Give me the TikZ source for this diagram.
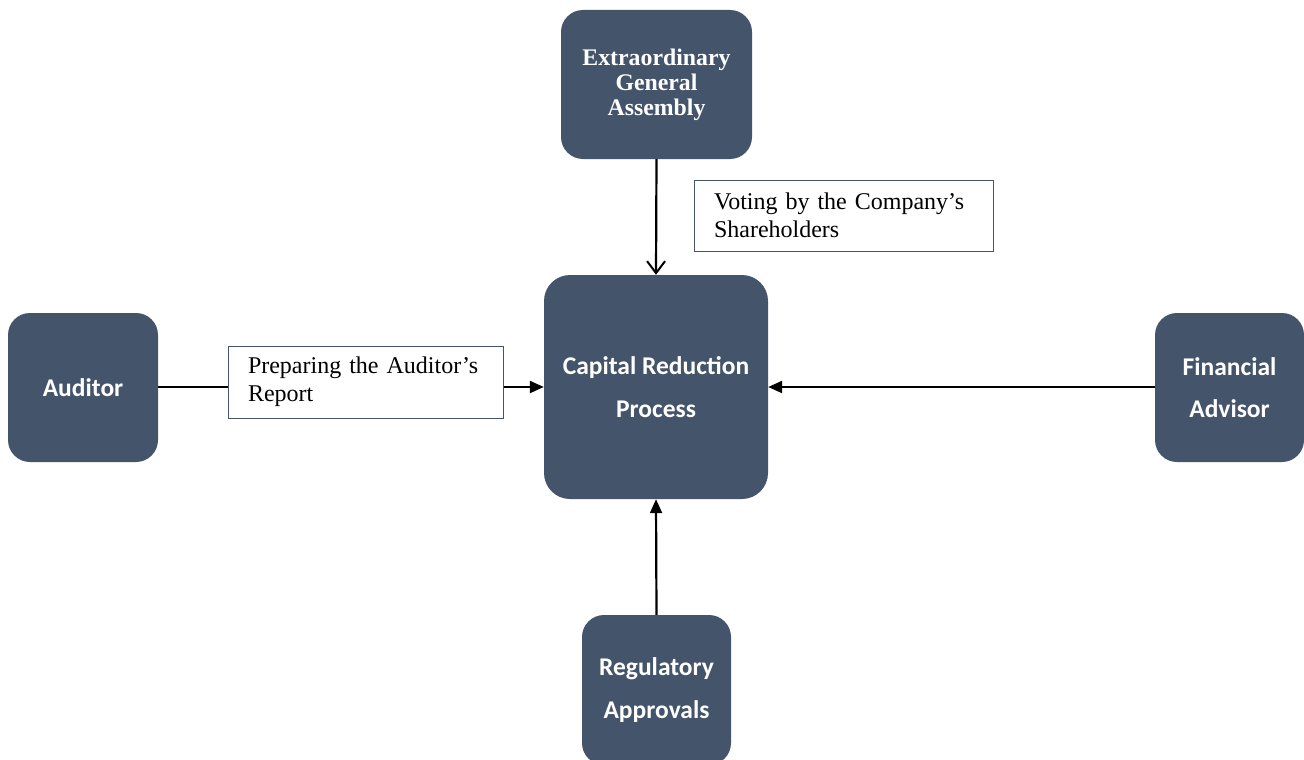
\documentclass[tikz,border=0pt]{standalone}
\usepackage{fontspec}
\setmainfont{Liberation Serif}
\newfontfamily\cand{Carlito}
\usetikzlibrary{arrows.meta}
\definecolor{slate}{HTML}{44546A}
\tikzset{
  box/.style={draw=none, fill=slate, rounded corners=22pt, text=white, align=center, inner sep=0pt},
  sansbox/.style={box, font=\cand\bfseries\fontsize{25.5}{42.5}\selectfont},
  serifbox/.style={box, font=\bfseries\fontsize{23.8}{25}\selectfont},
  lbl/.style={draw=slate, line width=0.9pt, fill=white, align=left, inner xsep=20pt, inner ysep=0pt, font=\fontsize{24}{28}\selectfont, anchor=center},
  conn/.style={line width=2.2pt, black},
  filled/.style={conn, -{Triangle[length=14pt,width=12pt]}},
  open/.style={conn, -{Straight Barb[length=12pt,width=18pt,line width=2pt]}}
}
\begin{document}
\begin{tikzpicture}[x=1pt,y=-1pt]
\clip (0,0) rectangle (1304,760);
\fill[white] (0,0) rectangle (1304,760);
\node[serifbox, minimum width=191pt, minimum height=149pt] (ega) at (656.5,84.5) {Extraordinary\\General\\Assembly};
\node[sansbox, minimum width=224pt, minimum height=224pt, rounded corners=26pt] (crp) at (656,387) {Capital Reduction\\Process};
\node[sansbox, minimum width=150pt, minimum height=149pt] (aud) at (83,387.5) {Auditor};
\node[sansbox, minimum width=149pt, minimum height=149pt] (fa) at (1229.5,387.5) {Financial\\Advisor};
\node[sansbox, minimum width=149pt, minimum height=150pt] (reg) at (656.5,690) {Regulatory\\Approvals};
\draw[open] (ega.south) -- (crp.north);
\draw[filled] (aud.east |- crp) -- (crp.west);
\draw[filled] (fa.west |- crp) -- (crp.east);
\draw[filled] (reg.north) -- (crp.south);
\node[lbl, text width=259pt, minimum height=71pt] (vote) at (843.5,215.5) {Voting by the Company’s\\Shareholders};
\node[lbl, text width=235pt, minimum height=72pt] (prep) at (365.5,382) {Preparing the Auditor’s\\Report};
\end{tikzpicture}
\end{document}
